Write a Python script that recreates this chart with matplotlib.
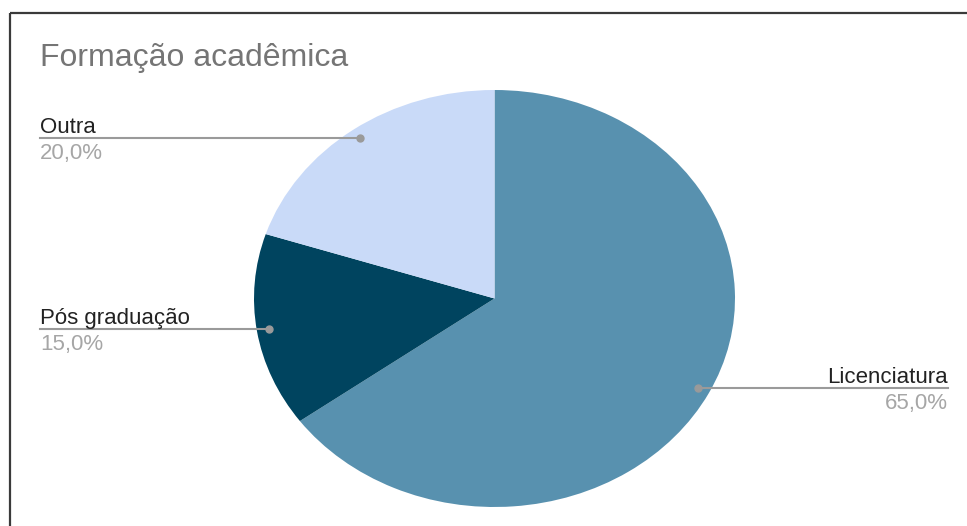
import numpy as np
import matplotlib
matplotlib.use("Agg")
import matplotlib.pyplot as plt

plt.rcParams["font.family"] = ["Liberation Sans", "DejaVu Sans"]

# Chart data
title = "Formação acadêmica"
categories = ["Licenciatura", "Pós graduação", "Outra"]
shares = [65.0, 15.0, 20.0]
colors = ["#5891af", "#00445f", "#c9daf8"]

W, H = 967, 526
fig = plt.figure(figsize=(W / 100, H / 100), dpi=100)

# Elliptical pie: axes box is wider than tall, aspect left auto
left, top, pw, ph = 254, 90, 481, 417
ax_pie = fig.add_axes([left / W, 1 - (top + ph) / H, pw / W, ph / H])
wedges, _ = ax_pie.pie(shares, colors=colors, startangle=90, counterclock=False,
                       wedgeprops=dict(linewidth=0))
ax_pie.set_aspect("auto")
ax_pie.set_xlim(-1, 1)
ax_pie.set_ylim(-1, 1)
ax_pie.axis("off")

# Overlay axes in pixel coordinates (origin top-left), drawn above the pie
ax_fg = fig.add_axes([0, 0, 1, 1])
ax_fg.set_xlim(0, W)
ax_fg.set_ylim(H, 0)
ax_fg.axis("off")
ax_fg.patch.set_alpha(0)

# frame of the chart (top and left edge visible)
ax_fg.plot([9.5, W], [12.5, 12.5], color="#3a3a3a", lw=1.6, solid_capstyle="butt")
ax_fg.plot([9.5, 9.5], [12.5, H], color="#3a3a3a", lw=1.6, solid_capstyle="butt")

ax_fg.text(40, 66, title, fontsize=23, color="#757575", va="baseline", ha="left")

fig.canvas.draw()
to_fg = ax_fg.transData.inverted()

for w, name, val in zip(wedges, categories, shares):
    mid = np.deg2rad((w.theta1 + w.theta2) / 2)
    disp = ax_pie.transData.transform((0.95 * np.cos(mid), 0.95 * np.sin(mid)))
    dx, dy = to_fg.transform(disp)
    if np.cos(mid) < 0:
        x_end, ha = 40, "left"
    else:
        x_end, ha = 948, "right"
    ax_fg.plot([dx, x_end], [dy, dy], color="#9a9a9a", lw=1.5, zorder=3)
    ax_fg.plot(dx, dy, "o", color="#9a9a9a", ms=5, zorder=4)
    ax_fg.text(x_end, dy - 5, name, fontsize=16, color="#222222", ha=ha, va="baseline")
    ax_fg.text(x_end, dy + 21, f"{val:.1f}%".replace(".", ","), fontsize=16,
               color="#a6a6a6", ha=ha, va="baseline")

fig.savefig("out.png", dpi=100)
